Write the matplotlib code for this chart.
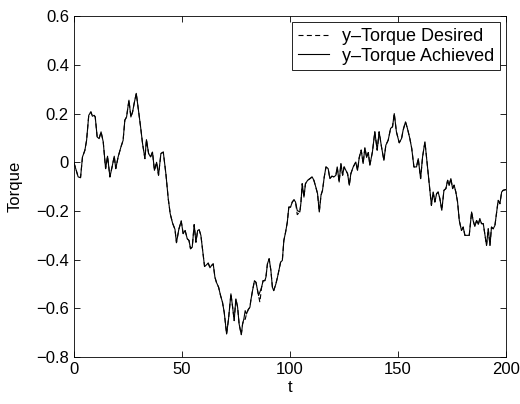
import matplotlib
matplotlib.use("Agg")
import matplotlib.pyplot as plt

# sample times and y-torque (achieved)
t = [0.0, 2.0, 3.1, 4.0, 5.1, 5.9, 6.9, 7.9, 8.6, 9.4, 9.9, 10.8, 11.7, 12.6, 13.6,
     14.7, 15.6, 16.7, 17.7, 18.7, 19.4, 20.5, 21.8, 22.8, 23.6, 24.4, 25.5, 26.4,
     27.2, 27.9, 28.9, 29.9, 30.9, 31.8, 32.9, 33.6, 34.6, 35.5, 36.4, 37.3, 38.3,
     39.2, 40.3, 41.4, 42.6, 43.7, 44.6, 45.7, 46.8, 47.5, 48.6, 49.7, 50.6, 51.5,
     52.5, 53.3, 54.0, 54.8, 55.7, 56.5, 57.3, 58.0, 58.8, 59.6, 60.5, 61.4, 62.2,
     63.0, 63.7, 64.5, 65.3, 66.0, 67.0, 67.9, 68.8, 69.6, 70.7, 71.6, 72.7, 73.5,
     74.2, 75.0, 75.8, 76.5, 77.5, 78.1, 78.7, 79.3, 79.9, 80.7, 81.5, 81.9, 82.7,
     83.6, 84.3, 84.9, 85.5, 86.1, 86.9, 87.6, 88.4, 88.9, 89.6, 90.4, 91.2, 91.9,
     92.5, 93.5, 94.3, 94.9, 95.7, 96.5, 97.2, 98.0, 98.8, 99.5, 100.3, 101.1, 101.9,
     102.6, 103.4, 104.6, 105.1, 105.7, 106.5, 107.2, 108.2, 109.3, 110.3, 111.1,
     112.0, 112.8, 113.6, 114.4, 115.1, 115.9, 116.7, 117.7, 118.5, 119.4, 120.4,
     121.3, 121.9, 122.8, 123.6, 124.4, 125.1, 125.9, 126.7, 127.5, 128.2, 129.3,
     130.5, 131.3, 132.1, 133.0, 133.9, 134.7, 135.5, 136.3, 137.0, 138.2, 139.3,
     140.4, 141.3, 142.4, 143.5, 144.4, 145.5, 146.6, 147.5, 148.3, 149.3, 150.6,
     151.7, 152.4, 153.5, 154.4, 155.5, 156.4, 157.4, 158.6, 159.4, 160.5, 161.4,
     162.5, 163.2, 164.0, 164.8, 165.5, 166.3, 167.1, 167.9, 168.6, 169.4, 170.3,
     171.3, 172.2, 173.0, 173.7, 174.5, 175.3, 176.0, 176.8, 177.6, 178.4, 179.4,
     180.2, 181.0, 181.8, 183.0, 184.1, 184.8, 185.6, 186.4, 187.2, 187.9, 188.7,
     189.5, 190.2, 191.0, 191.8, 192.6, 193.3, 194.1, 194.9, 195.6, 196.4, 197.2,
     198.0, 198.7, 200.0]

torque_achieved = [0.000, -0.060, -0.063, 0.022, 0.049, 0.090, 0.193, 0.207, 0.189,
     0.193, 0.186, 0.104, 0.097, 0.125, 0.084, -0.026, 0.025, -0.060, -0.019, 0.025,
     -0.026, 0.022, 0.063, 0.090, 0.173, 0.186, 0.255, 0.186, 0.207, 0.241, 0.283,
     0.214, 0.145, 0.077, 0.015, 0.093, 0.036, 0.022, 0.042, -0.033, 0.000, -0.053,
     0.036, 0.042, -0.047, -0.150, -0.211, -0.250, -0.275, -0.330, -0.275, -0.241,
     -0.293, -0.280, -0.314, -0.321, -0.355, -0.348, -0.256, -0.328, -0.280, -0.277,
     -0.300, -0.362, -0.428, -0.421, -0.414, -0.433, -0.424, -0.417, -0.472, -0.493,
     -0.513, -0.547, -0.575, -0.616, -0.705, -0.643, -0.540, -0.595, -0.650, -0.561,
     -0.595, -0.664, -0.708, -0.664, -0.643, -0.609, -0.623, -0.605, -0.595, -0.568,
     -0.527, -0.486, -0.493, -0.520, -0.547, -0.533, -0.513, -0.486, -0.486, -0.472,
     -0.417, -0.396, -0.444, -0.513, -0.527, -0.500, -0.470, -0.444, -0.410, -0.403,
     -0.321, -0.287, -0.246, -0.184, -0.184, -0.163, -0.154, -0.163, -0.198, -0.204,
     -0.167, -0.088, -0.143, -0.088, -0.074, -0.067, -0.060, -0.074, -0.102, -0.129,
     -0.204, -0.135, -0.115, -0.060, -0.019, -0.026, -0.067, -0.057, -0.060, -0.053,
     -0.019, -0.081, -0.005, -0.053, -0.019, -0.033, -0.047, -0.094, -0.047, -0.019,
     0.001, -0.033, 0.020, 0.050, -0.005, 0.060, 0.020, 0.040, -0.012, 0.043, 0.125,
     0.050, 0.125, 0.063, 0.008, 0.070, 0.091, 0.139, 0.146, 0.200, 0.125, 0.080,
     0.098, 0.132, 0.166, 0.139, 0.098, 0.056, -0.019, -0.019, 0.015, -0.067, 0.022,
     0.084, 0.022, -0.046, -0.115, -0.177, -0.122, -0.163, -0.129, -0.122, -0.149,
     -0.197, -0.115, -0.108, -0.074, -0.094, -0.067, -0.108, -0.094, -0.122, -0.163,
     -0.239, -0.280, -0.266, -0.300, -0.300, -0.300, -0.204, -0.239, -0.263, -0.239,
     -0.255, -0.232, -0.252, -0.252, -0.293, -0.341, -0.273, -0.341, -0.266, -0.273,
     -0.259, -0.211, -0.156, -0.170, -0.122, -0.115, -0.112]

# desired torque follows the achieved trace except at these samples
desired_diffs = {79.3: -0.645, 86.1: -0.575, 103.4: -0.215}
torque_desired = [desired_diffs.get(ti, v) for ti, v in zip(t, torque_achieved)]

x_ticks = [0, 50, 100, 150, 200]
y_ticks = [-0.8, -0.6, -0.4, -0.2, 0, 0.2, 0.4, 0.6]

plt.rcParams["font.family"] = ["Liberation Sans", "DejaVu Sans"]
plt.rcParams["font.size"] = 12

fig = plt.figure(figsize=(5.2, 4.04), dpi=100)
ax = fig.add_axes([0.142, 0.116, 0.831, 0.844])

ax.plot(t, torque_desired, color="black", linestyle=(0, (4.5, 3)), linewidth=0.8, label="y\u2013Torque Desired")
ax.plot(t, torque_achieved, color="black", linestyle="-", linewidth=0.8, label="y\u2013Torque Achieved")

ax.set_xlim(0, 200)
ax.set_ylim(-0.8, 0.6)
ax.set_xticks(x_ticks)
ax.set_yticks(y_ticks)
ax.set_yticklabels(["\u22120.8", "\u22120.6", "\u22120.4", "\u22120.2", "0", "0.2", "0.4", "0.6"])
ax.tick_params(direction="in", length=4, width=0.6, top=True, right=True)
for s in ax.spines.values():
    s.set_linewidth(0.6)

ax.set_xlabel("t", labelpad=2)
ax.set_ylabel("Torque", labelpad=10)

leg = ax.legend(loc="upper right", fancybox=False, framealpha=1, edgecolor="black",
                fontsize=13, handlelength=1.75, handletextpad=0.7, borderpad=0.3,
                labelspacing=0.15, borderaxespad=0.35)
leg.get_frame().set_linewidth(0.6)

plt.savefig("out.png", dpi=100)
